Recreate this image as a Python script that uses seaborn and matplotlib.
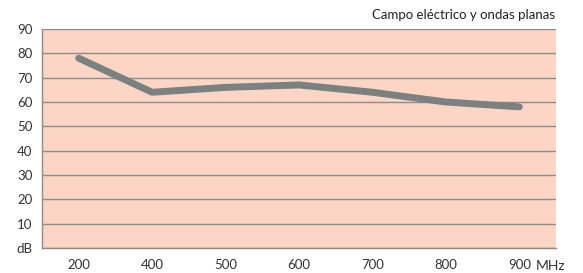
import pandas as pd
import matplotlib.pyplot as plt
import seaborn as sns
from matplotlib.ticker import FixedLocator

frequencies = ['200', '400', '500', '600', '700', '800', '900']
field_db = [78, 64, 66, 67, 64, 60, 58]
y_ticks = [0, 10, 20, 30, 40, 50, 60, 70, 80, 90]
y_labels = ['dB', '10', '20', '30', '40', '50', '60', '70', '80', '90']

df = pd.DataFrame({'freq': frequencies, 'db': field_db})

sns.set_style('white')
plt.rcParams['font.family'] = ['Lato', 'DejaVu Sans']

fig = plt.figure(figsize=(5.83, 2.73), dpi=100)
ax = fig.add_axes([0.072, 0.0916, 0.8817, 0.8022])
ax.set_facecolor('#fdd5c5')

sns.lineplot(data=df, x='freq', y='db', sort=False, color='#7b8081',
             linewidth=5, ax=ax, zorder=3)

ax.set_xlim(-0.5, len(frequencies) - 0.5)
ax.set_ylim(0, 90)
ax.set_yticks(y_ticks)
ax.set_yticklabels(y_labels)
ax.yaxis.grid(True, color='#8c8c8c', linewidth=1)
ax.set_axisbelow(True)

ax.set_xticks(range(len(frequencies)))
ax.set_xticklabels(frequencies)
ax.tick_params(axis='x', which='major', length=0, pad=8, labelsize=9.5, colors='#333333')
ax.xaxis.set_minor_locator(FixedLocator([i - 0.5 for i in range(len(frequencies) + 1)]))
ax.tick_params(axis='x', which='minor', length=4, width=1, color='#8c8c8c', direction='out')
ax.tick_params(axis='y', length=4, width=1, color='#8c8c8c', direction='out',
               labelsize=9.5, labelcolor='#333333', pad=3)

for side in ['top', 'right']:
    ax.spines[side].set_visible(False)
for side in ['left', 'bottom']:
    ax.spines[side].set_color('#8c8c8c')
    ax.spines[side].set_linewidth(1)

ax.set_xlabel('')
ax.set_ylabel('')

ax.text(6.22, -0.082, 'MHz', transform=ax.get_xaxis_transform(), ha='left', va='center',
        fontsize=10, color='#333333')
fig.text(0.953, 0.945, 'Campo eléctrico y ondas planas', ha='right', va='center',
         fontsize=9.5, color='#222222')

fig.savefig('out.png', dpi=100)
